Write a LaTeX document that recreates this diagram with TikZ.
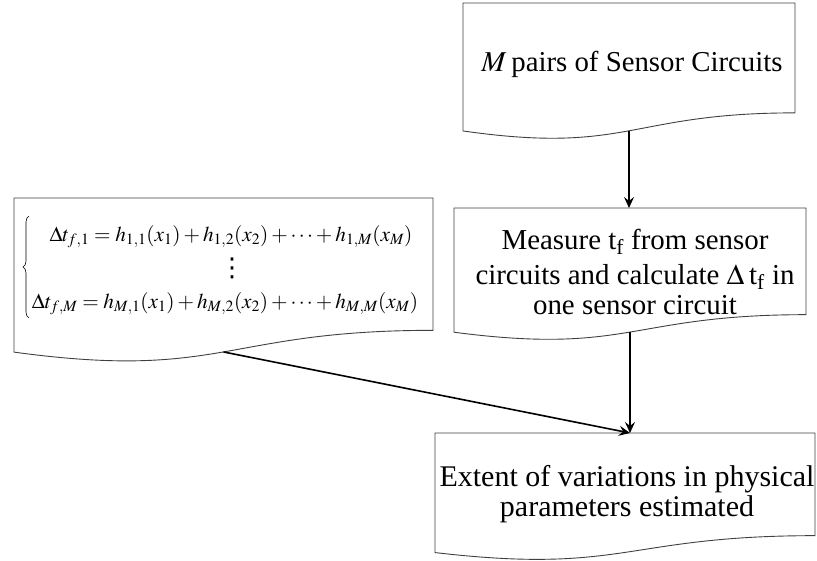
\documentclass[tikz,border=0pt]{standalone}
\usepackage{mathptmx}
\usepackage{fontspec}
\setmainfont{Liberation Serif}
\newfontfamily\tnr{Liberation Serif}
\newfontfamily\djv{DejaVu Sans}
\usetikzlibrary{arrows.meta,decorations.pathreplacing}

\tikzset{
  docline/.style={draw=black!75, line width=0.9pt, fill=white},
  flow/.style={draw=black, line width=1.6pt, -{Stealth[length=11pt,width=10pt,inset=4pt]}},
  boxtext/.style={align=center, inner sep=0pt, anchor=base},
  eqrow/.style={inner sep=0pt, anchor=base, font=\fontsize{21.2}{26}\selectfont},
}

% Flowchart "document" shape: name, left x, top y, width, height
\newcommand\docbox[5]{%
  \pgfmathsetmacro\dbXr{#2+#4}%
  \pgfmathsetmacro\dbXm{#2+0.5*#4}%
  \pgfmathsetmacro\dbYr{#3+0.802*#5}%
  \pgfmathsetmacro\dbYc{#3+1.107*#5}%
  \pgfmathsetmacro\dbYl{#3+0.934*#5}%
  \pgfmathsetmacro\dbYf{#3+0.933*#5}%
  \draw[docline] (#2,#3) -- (\dbXr,#3) -- (\dbXr,\dbYr)
    .. controls (\dbXm,\dbYr) and (\dbXm,\dbYc) .. (#2,\dbYl) -- cycle;
  \coordinate (#1-top) at (\dbXm,#3);
  \coordinate (#1-foot) at (\dbXm,\dbYf);
}

\begin{document}
\begin{tikzpicture}[x=1pt,y=-1pt]
\useasboundingbox (0,0) rectangle (817,560);

\docbox{pairs}{463}{3}{332}{137}
\docbox{meas}{454}{208}{352}{133}
\docbox{sys}{14}{198}{419}{165}
\docbox{est}{435}{433}{380}{128}

% box texts, placed by their last baseline
\node[boxtext, font=\tnr\fontsize{28.8}{32}\selectfont] (pairstxt) at (632,71)
  {$M$\,pairs of Sensor Circuits};
\node[boxtext, font=\tnr\fontsize{28.9}{30}\selectfont] (meastxt) at (635,314)
  {Measure t\textsubscript{f} from sensor\\[5pt]circuits and calculate $\Delta$\,t\textsubscript{f} in\\one sensor circuit};
\node[boxtext, font=\tnr\fontsize{30}{30}\selectfont] (esttxt) at (627,516)
  {Extent of variations in physical\\parameters estimated};

% system of equations
\node[eqrow] (eqfirst) at (231,241)
  {$\Delta t_{f,1} = h_{1,1}(x_1)+h_{1,2}(x_2)+\cdots+h_{1,M}(x_M)$};
\node[inner sep=0pt, font=\djv\fontsize{26}{26}\selectfont] (eqdots) at (232,268) {⋮};
\node[eqrow] (eqlast) at (225,308)
  {$\Delta t_{f,M} = h_{M,1}(x_1)+h_{M,2}(x_2)+\cdots+h_{M,M}(x_M)$};
\coordinate (bracelo) at (29,318);
\coordinate (bracehi) at (29,216);
\draw[line width=0.6pt, decorate, decoration={brace, amplitude=6pt}] (bracelo) -- (bracehi);

\coordinate (estin) at (meas-foot |- est-top);
\draw[flow] (pairs-foot) -- (pairs-foot |- meas-top);
\draw[flow] (meas-foot) -- (estin);
\draw[flow] (sys-foot) -- (estin);
\end{tikzpicture}
\end{document}
